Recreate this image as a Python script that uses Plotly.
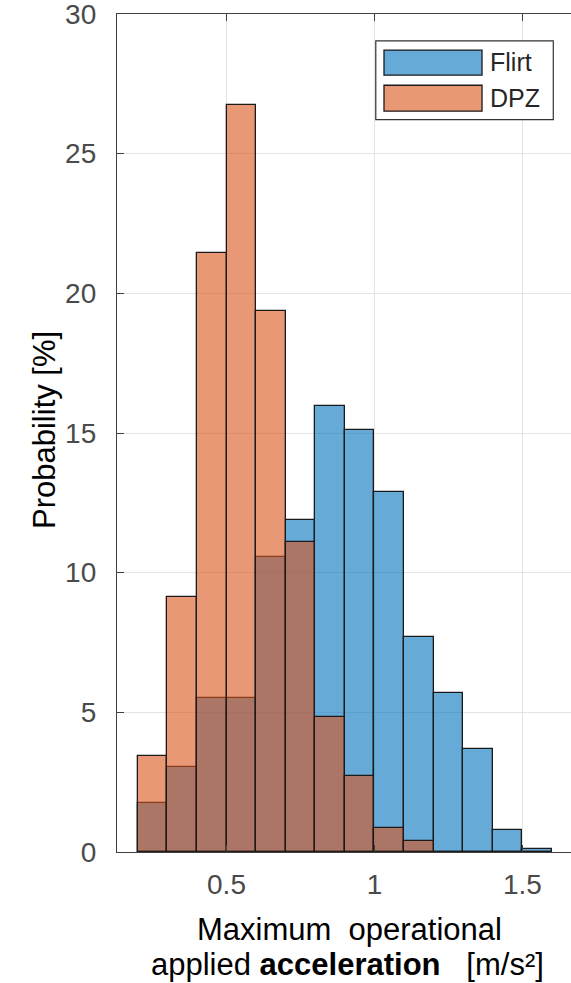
import plotly.graph_objects as go

# Histogram bins (left edges), bin width 0.1 m/s^2
bin_left = [0.2, 0.3, 0.4, 0.5, 0.6, 0.7, 0.8, 0.9, 1.0, 1.1, 1.2, 1.3, 1.4, 1.5]
bin_width = 0.1

# Probability [%]
flirt = [1.74, 3.03, 5.53, 5.53, 10.55, 11.89, 15.97, 15.09, 12.88, 7.69, 5.71, 3.68, 0.79, 0.10]
dpz = [3.44, 9.14, 21.45, 26.76, 19.37, 11.11, 4.82, 2.72, 0.87, 0.39, 0.0, 0.0, 0.0, 0.0]

series_names = ["Flirt", "DPZ"]
x_ticks = [0.5, 1, 1.5]
x_tick_text = ["0.5", "1", "1.5"]
y_ticks = [0, 5, 10, 15, 20, 25, 30]

blue = "rgba(0,114,189,0.6)"
orange = "rgba(217,83,25,0.6)"
font_family = "Liberation Sans, Arial, sans-serif"
axis_color = "#404040"
tick_color = "#4a4a4a"

fig = go.Figure()
for name, vals, col in [(series_names[0], flirt, blue), (series_names[1], dpz, orange)]:
    fig.add_trace(go.Bar(
        x=bin_left, y=vals, width=bin_width, offset=0,
        name=name, marker=dict(color=col, line=dict(color="#1a1a1a", width=1.3)),
        showlegend=False,
    ))

fig.update_layout(
    width=571, height=983,
    margin=dict(l=117, r=0, t=14, b=131),
    paper_bgcolor="white", plot_bgcolor="white",
    barmode="overlay", bargap=0,
    font=dict(family=font_family, size=28, color=tick_color),
)
fig.update_xaxes(
    range=[0.13, 1.664], tickvals=x_ticks, ticktext=x_tick_text,
    showgrid=True, gridcolor="#e3e3e3", gridwidth=1,
    showline=True, linecolor=axis_color, linewidth=1.3, mirror="ticks",
    ticks="inside", ticklen=7, tickcolor=axis_color, tickwidth=1.3,
    ticklabelstandoff=7, zeroline=False, ticklabeloverflow="allow",
    tickfont=dict(size=28, color=tick_color, family=font_family),
)
fig.update_yaxes(
    range=[0, 30], tickvals=y_ticks,
    showgrid=True, gridcolor="#e3e3e3", gridwidth=1,
    showline=True, linecolor=axis_color, linewidth=1.3, mirror=False,
    ticks="inside", ticklen=7, tickcolor=axis_color, tickwidth=1.3,
    ticklabelstandoff=14, zeroline=False, ticklabeloverflow="allow",
    tickfont=dict(size=28, color=tick_color, family=font_family),
)

# Axis labels
fig.add_annotation(
    text="Probability [%]", textangle=-90, xref="paper", yref="paper",
    x=-0.1586, y=0.5036, xanchor="center", yanchor="middle", showarrow=False,
    font=dict(size=31, color="black", family=font_family),
)
fig.add_annotation(
    text="Maximum\u00a0\u00a0operational", xref="paper", yref="paper",
    x=0.513, y=-0.0925, xanchor="center", yanchor="middle", showarrow=False,
    font=dict(size=31, color="black", family=font_family),
)
fig.add_annotation(
    text="applied <b>acceleration</b>\u00a0\u00a0\u00a0[m/s²]", xref="paper", yref="paper",
    x=0.507, y=-0.1343, xanchor="center", yanchor="middle", showarrow=False,
    font=dict(size=31, color="black", family=font_family),
)

# Legend (drawn as a MATLAB-style box)
fig.add_shape(type="rect", xref="paper", yref="paper", x0=0.570, x1=0.961, y0=0.874, y1=0.968,
              fillcolor="white", line=dict(color="#333333", width=1.2), layer="above")
legend_rows = [(0.927, 0.957, 0.943, blue), (0.884, 0.915, 0.900, orange)]
for name, (y0, y1, yc, col) in zip(series_names, legend_rows):
    fig.add_shape(type="rect", xref="paper", yref="paper", x0=0.5881, x1=0.804, y0=y0, y1=y1,
                  fillcolor=col, line=dict(color="#1a1a1a", width=1.3), layer="above")
    fig.add_annotation(text=name, xref="paper", yref="paper", x=0.818, y=yc,
                       xanchor="left", yanchor="middle", showarrow=False,
                       font=dict(size=25, color="#262626", family=font_family))

fig.write_html("out.html")
